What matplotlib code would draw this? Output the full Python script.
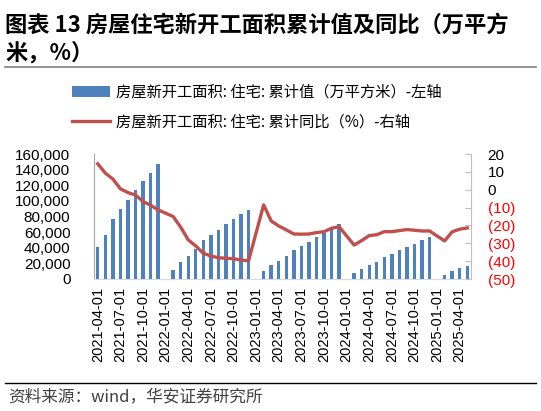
import matplotlib
matplotlib.use("Agg")
import matplotlib.pyplot as plt
import matplotlib.ticker as mticker
from matplotlib.lines import Line2D
import numpy as np
import pandas as pd

plt.rcParams['font.family'] = ['Liberation Sans', 'Noto Sans CJK SC', 'DejaVu Sans']

# monthly data, 2021-04 .. 2025-05 (Jan has no separate release -> NaN)
months = pd.date_range('2021-04-01', '2025-05-01', freq='MS')

area = [41000, 56400, 76500, 89300, 101700, 114500, 124800, 136300, 147400,
        np.nan, 11500, 22200, 29500, 38500, 50000, 56800, 63200, 70500, 76900, 82900, 88900,
        np.nan, 10300, 17900, 23500, 29500, 37200, 41900, 47400, 53400, 59000, 64500, 70100,
        np.nan, 7300, 13200, 17500, 22200, 28200, 32000, 36800, 41500, 44900, 49600, 54300,
        np.nan, 4700, 9800, 13700, 17100]

yoy = [14.5, 9.3, 6.0, 0.5, -1.6, -3.0, -6.6, -8.7, -11.3,
       np.nan, -15.0, -21.0, -28.1, -31.5, -35.6, -37.1, -38.1, -38.4, -38.6, -39.4, -39.8,
       np.nan, -8.5, -17.5, -20.3, -22.5, -24.8, -24.9, -24.8, -24.0, -23.5, -21.6, -20.7,
       np.nan, -31.0, -28.5, -25.7, -25.2, -23.5, -23.5, -22.9, -22.3, -22.7, -23.1, -23.1,
       np.nan, -28.7, -23.6, -22.1, -21.4]

lab_bar = '房屋新开工面积: 住宅: 累计值（万平方米）-左轴'
lab_line = '房屋新开工面积: 住宅: 累计同比（%）-右轴'

x = np.arange(len(months))
area = np.array(area, dtype=float)
yoy = np.array(yoy, dtype=float)

fig = plt.figure(figsize=(5.41, 4.11), dpi=100)
ax = fig.add_axes([94/541, 1 - 279/411, (471 - 94)/541, (279 - 154)/411])
ax2 = ax.twinx()

bars = ax.bar(x, area, width=0.45, color='#4f81bd', label=lab_bar, zorder=2)
ok = ~np.isnan(yoy)
ln, = ax2.plot(x[ok], yoy[ok], color='#c0504d', lw=2.4, label=lab_line)

ax.set_xlim(-0.5, len(x) - 0.5)
ax.set_ylim(0, 160000)
ax.set_yticks(np.arange(0, 160001, 20000))
ax.yaxis.set_major_formatter(mticker.FuncFormatter(lambda v, p: f'{v:,.0f}'))
ax2.set_ylim(-50, 20)
ax2.set_yticks(np.arange(-50, 21, 10))
ax2.yaxis.set_major_formatter(mticker.FuncFormatter(
    lambda v, p: f'({abs(v):.0f})' if v < 0 else f'{v:.0f}'))

ticks = x[::3]
ax.set_xticks(ticks)
ax.set_xticklabels([months[i].strftime('%Y-%m-%d') for i in ticks], rotation=90)

for a in (ax, ax2):
    a.spines['top'].set_visible(False)
ax.spines['right'].set_visible(False)
ax2.spines['left'].set_visible(False)
ax2.spines['bottom'].set_visible(False)
ax.spines['left'].set_color('#a6a6a6')
ax.spines['bottom'].set_color('#d9d9d9')
ax2.spines['right'].set_color('#bfbfbf')
ax.tick_params(axis='y', length=0, labelsize=11, pad=17)
ax.tick_params(axis='x', length=0, labelsize=10.5, pad=6)
ax2.tick_params(axis='y', direction='in', length=4, color='#bfbfbf', labelsize=11, pad=12)
for t, v in zip(ax2.get_yticklabels(), ax2.get_yticks()):
    t.set_color('#ff0000' if v < 0 else 'black')

fig.legend(handles=[bars, ln], loc='upper left', bbox_to_anchor=(72/541, 1 - 84/411),
           frameon=False, handlelength=2.5, labelspacing=0.8,
           handletextpad=0.4, borderpad=0, borderaxespad=0,
           prop={'family': ['Noto Sans CJK SC', 'DejaVu Sans'], 'size': 11})

tfont = {'family': ['Noto Sans CJK SC', 'DejaVu Sans'], 'weight': 'bold', 'size': 16}
fig.text(5/541, 1 - 25/411, '图表 13 房屋住宅新开工面积累计值及同比（万平方', va='center', ha='left', **tfont)
fig.text(5/541, 1 - 53/411, '米，%）', va='center', ha='left', **tfont)
fig.add_artist(Line2D([5/541, 536/541], [1 - 67/411, 1 - 67/411], color='#808080', lw=1.2))
fig.add_artist(Line2D([5/541, 536/541], [1 - 383/411, 1 - 383/411], color='black', lw=1.0))
fig.text(8/541, 1 - 397/411, '资料来源：wind，华安证券研究所', va='center', ha='left',
         color='#404040', family=['Noto Sans CJK SC', 'DejaVu Sans'], size=12)

fig.savefig('out.png', dpi=100)
